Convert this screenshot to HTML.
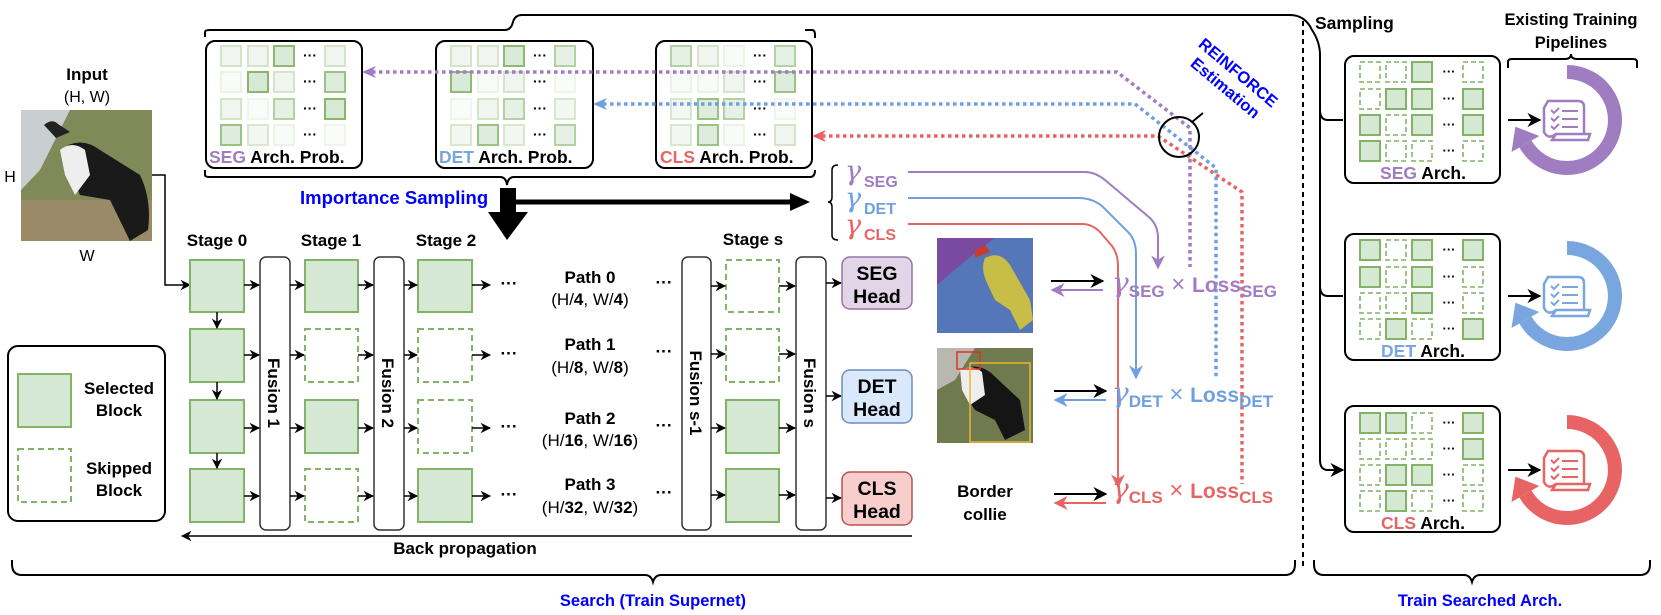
<!DOCTYPE html>
<html><head><meta charset="utf-8"><style>
html,body{margin:0;padding:0;background:#fff;}
svg{display:block;font-family:"Liberation Sans",Arial,sans-serif;}
.b{font-weight:bold;}
</style></head><body>
<svg width="1661" height="615" viewBox="0 0 1661 615" xmlns="http://www.w3.org/2000/svg">
<defs>
<marker id="ah" viewBox="0 0 10 10" refX="9" refY="5" markerWidth="7" markerHeight="7" orient="auto-start-reverse"><path d="M0,0 L10,5 L0,10 L3,5 z" fill="#000"/></marker>
<marker id="ahp" viewBox="0 0 10 10" refX="9" refY="5" markerWidth="7" markerHeight="7" orient="auto"><path d="M0,0 L10,5 L0,10 L3,5 z" fill="#a07cc0"/></marker>
<marker id="ahb" viewBox="0 0 10 10" refX="9" refY="5" markerWidth="7" markerHeight="7" orient="auto"><path d="M0,0 L10,5 L0,10 L3,5 z" fill="#6f9fe0"/></marker>
<marker id="ahr" viewBox="0 0 10 10" refX="9" refY="5" markerWidth="7" markerHeight="7" orient="auto"><path d="M0,0 L10,5 L0,10 L3,5 z" fill="#e86464"/></marker>
</defs>

<!-- Input -->
<text x="87" y="80" text-anchor="middle" class="b" font-size="17">Input</text>
<text x="87" y="102" text-anchor="middle" font-size="16">(H, W)</text>
<text x="10" y="182" text-anchor="middle" font-size="16">H</text>
<text x="87" y="261" text-anchor="middle" font-size="16">W</text>
<g>
<rect x="21" y="110" width="131" height="131" fill="#7f8a58"/>
<path d="M21,110 L70,110 L40,170 L21,190z" fill="#c9cfd0"/>
<rect x="21" y="200" width="131" height="41" fill="#9a8a68"/>
<path d="M60,150 Q80,135 100,150 L140,175 Q152,200 148,230 L130,241 L110,200 L80,195 L70,170z" fill="#1a1a1a"/>
<path d="M60,150 Q72,140 85,150 L90,175 L75,195 L65,175z" fill="#eee"/>
<path d="M44,125 Q52,118 58,124 L70,132 L56,138z" fill="#222"/>
</g>
<path d="M152,175 L165,175 L165,285 L190,285" fill="none" stroke="#000" stroke-width="1.5" marker-end="url(#ah)"/>

<!-- top long brace line -->
<path d="M205,37 L205,32 Q205,30 210,30 L505,30 Q511,30 513,22 Q515,15 522,15 L1290,15 Q1305,15 1312,30 Q1320,42 1320,55 L1320,460" fill="none" stroke="#000" stroke-width="2"/>
<path d="M805,30 L812,30 Q815,30 815,35 L815,38" fill="none" stroke="#000" stroke-width="2"/>
<path d="M1320,110 Q1320,120 1328,120 L1343,120 M1320,286 Q1320,296 1328,296 L1343,296 M1320,460 Q1320,470 1328,470 L1343,470" fill="none" stroke="#000" stroke-width="2"/>
<path d="M1330,120 L1343,120 M1330,296 L1343,296 M1330,470 L1343,470" stroke="#000" stroke-width="2" marker-end="url(#ah)"/>
<path d="M205,170 L205,175 Q205,177 210,177 L500,177 Q506,177 507,185 Q508,177 514,177 L810,177 Q815,177 815,170" fill="none" stroke="#000" stroke-width="2"/>

<!-- Prob boxes -->
<g stroke="#000" stroke-width="2" fill="#fff">
<rect x="206" y="41" width="156" height="127" rx="9"/>
<rect x="436" y="41" width="157" height="127" rx="9"/>
<rect x="656" y="41" width="156" height="127" rx="9"/>
</g>
<g fill="#d5e8d4" stroke="#82b366" stroke-width="2">
<rect x="221" y="46" width="20" height="20" opacity=".35"/><rect x="248" y="46" width="20" height="20" opacity=".35"/><rect x="274" y="46" width="20" height="20" opacity=".9"/><rect x="325" y="46" width="20" height="20" opacity=".35"/>
<rect x="221" y="72" width="20" height="20" opacity=".15"/><rect x="248" y="72" width="20" height="20" opacity=".95"/><rect x="274" y="72" width="20" height="20" opacity=".35"/><rect x="325" y="72" width="20" height="20" opacity=".8"/>
<rect x="221" y="99" width="20" height="20" opacity=".35"/><rect x="248" y="99" width="20" height="20" opacity=".12"/><rect x="274" y="99" width="20" height="20" opacity=".6"/><rect x="325" y="99" width="20" height="20" opacity=".95"/>
<rect x="221" y="125" width="20" height="20" opacity=".8"/><rect x="248" y="125" width="20" height="20" opacity=".3"/><rect x="274" y="125" width="20" height="20" opacity=".15"/><rect x="325" y="125" width="20" height="20" opacity=".12"/>
<rect x="451" y="46" width="20" height="20" opacity=".35"/><rect x="478" y="46" width="20" height="20" opacity=".35"/><rect x="504" y="46" width="20" height="20" opacity=".9"/><rect x="555" y="46" width="20" height="20" opacity=".6"/>
<rect x="451" y="72" width="20" height="20" opacity=".9"/><rect x="478" y="72" width="20" height="20" opacity=".15"/><rect x="504" y="72" width="20" height="20" opacity=".35"/><rect x="555" y="72" width="20" height="20" opacity=".12"/>
<rect x="451" y="99" width="20" height="20" opacity=".12"/><rect x="478" y="99" width="20" height="20" opacity=".35"/><rect x="504" y="99" width="20" height="20" opacity=".6"/><rect x="555" y="99" width="20" height="20" opacity=".3"/>
<rect x="451" y="125" width="20" height="20" opacity=".3"/><rect x="478" y="125" width="20" height="20" opacity=".8"/><rect x="504" y="125" width="20" height="20" opacity=".3"/><rect x="555" y="125" width="20" height="20" opacity=".6"/>
<rect x="671" y="46" width="20" height="20" opacity=".6"/><rect x="698" y="46" width="20" height="20" opacity=".35"/><rect x="724" y="46" width="20" height="20" opacity=".15"/><rect x="775" y="46" width="20" height="20" opacity=".6"/>
<rect x="671" y="72" width="20" height="20" opacity=".15"/><rect x="698" y="72" width="20" height="20" opacity=".15"/><rect x="724" y="72" width="20" height="20" opacity=".35"/><rect x="775" y="72" width="20" height="20" opacity=".8"/>
<rect x="671" y="99" width="20" height="20" opacity=".3"/><rect x="698" y="99" width="20" height="20" opacity=".8"/><rect x="724" y="99" width="20" height="20" opacity=".6"/><rect x="775" y="99" width="20" height="20" opacity=".12"/>
<rect x="671" y="125" width="20" height="20" opacity=".3"/><rect x="698" y="125" width="20" height="20" opacity=".8"/><rect x="724" y="125" width="20" height="20" opacity=".15"/><rect x="775" y="125" width="20" height="20" opacity=".35"/>
</g>
<g class="b" font-size="14" text-anchor="middle">
<text x="310" y="60">···</text><text x="310" y="86">···</text><text x="310" y="113">···</text><text x="310" y="139">···</text>
<text x="540" y="60">···</text><text x="540" y="86">···</text><text x="540" y="113">···</text><text x="540" y="139">···</text>
<text x="760" y="60">···</text><text x="760" y="86">···</text><text x="760" y="113">···</text><text x="760" y="139">···</text>
</g>
<g class="b" font-size="17.5">
<text x="209" y="163"><tspan fill="#a07cc0">SEG</tspan> Arch. Prob.</text>
<text x="439" y="163"><tspan fill="#7aa6e0">DET</tspan> Arch. Prob.</text>
<text x="660" y="163"><tspan fill="#e86464">CLS</tspan> Arch. Prob.</text>
</g>

<!-- dotted feedback lines -->
<g fill="none" stroke-width="3.5" stroke-dasharray="3.5,3.5">
<path d="M372,72 L1117,72 L1190,128 L1190,267" stroke="#a07cc0"/>
<path d="M603,104 L1135,104 L1216,168 L1216,378" stroke="#6f9fe0"/>
<path d="M822,136 L1158,136 L1242,192 L1242,484" stroke="#e86464"/>
</g>
<path d="M362,72 L376,66 L372,72 L376,78z" fill="#a07cc0"/>
<path d="M593,104 L607,98 L603,104 L607,110z" fill="#6f9fe0"/>
<path d="M812,136 L826,130 L822,136 L826,142z" fill="#e86464"/>
<circle cx="1179" cy="137" r="20" fill="none" stroke="#000" stroke-width="2"/>
<line x1="1192" y1="122" x2="1203" y2="113" stroke="#000" stroke-width="2"/>
<g transform="translate(1232,80) rotate(40)" fill="#0000ff" class="b" font-size="16.5" text-anchor="middle">
<text x="0" y="-4">REINFORCE</text>
<text x="0" y="16">Estimation</text>
</g>

<!-- Importance sampling -->
<text x="300" y="204" fill="#0000ff" class="b" font-size="18.5">Importance Sampling</text>
<path d="M500,188 L516,188 L516,212 L528,212 L507,240 L488,212 L500,212z" fill="#000"/>
<line x1="516" y1="202" x2="795" y2="202" stroke="#000" stroke-width="5"/>
<path d="M790,193 L810,202 L790,211z" fill="#000"/>

<!-- gamma group -->
<path d="M838,165 Q832,165 832,170 L832,197 Q832,202 828,202 Q832,202 832,207 L832,235 Q832,240 838,240" fill="none" stroke="#000" stroke-width="1.5"/>
<g font-family="'DejaVu Serif',serif" font-size="27" font-style="italic">
<text x="845" y="180" fill="#a07cc0">γ</text>
<text x="845" y="207" fill="#6f9fe0">γ</text>
<text x="845" y="234" fill="#e86464">γ</text>
</g>
<g class="b" font-size="16">
<text x="864" y="187" fill="#a07cc0">SEG</text>
<text x="864" y="214" fill="#6f9fe0">DET</text>
<text x="864" y="240" fill="#e86464">CLS</text>
</g>
<g fill="none" stroke-width="2">
<path d="M908,172 L1085,172 Q1095,172 1105,180 L1150,218 Q1158,226 1158,238 L1158,268" stroke="#a07cc0" marker-end="url(#ahp)"/>
<path d="M908,198 L1078,198 Q1092,198 1102,206 L1128,232 Q1136,240 1136,254 L1136,378" stroke="#6f9fe0" marker-end="url(#ahb)"/>
<path d="M908,224 L1082,224 Q1092,224 1100,232 L1112,246 Q1118,254 1118,266 L1118,487" stroke="#e86464" marker-end="url(#ahr)"/>
</g>

<!-- Stages -->
<g class="b" font-size="17" text-anchor="middle">
<text x="217" y="246">Stage 0</text><text x="331" y="246">Stage 1</text><text x="446" y="246">Stage 2</text><text x="753" y="245">Stage s</text>
</g>
<g fill="#fff" stroke="#333" stroke-width="1.5">
<rect x="260" y="257" width="30" height="273" rx="6"/>
<rect x="374" y="257" width="30" height="273" rx="6"/>
<rect x="682" y="257" width="29" height="273" rx="6"/>
<rect x="796" y="257" width="30" height="273" rx="6"/>
</g>
<g class="b" font-size="17">
<text transform="translate(268,393) rotate(90)" text-anchor="middle">Fusion 1</text>
<text transform="translate(382,393) rotate(90)" text-anchor="middle">Fusion 2</text>
<text transform="translate(690,393) rotate(90)" text-anchor="middle">Fusion s-1</text>
<text transform="translate(804,393) rotate(90)" text-anchor="middle">Fusion s</text>
</g>
<g fill="#d5e8d4" stroke="#82b366" stroke-width="2">
<rect x="190" y="260" width="54" height="52"/><rect x="190" y="329" width="54" height="53"/><rect x="190" y="400" width="54" height="53"/><rect x="190" y="469" width="54" height="53"/>
<rect x="305" y="260" width="53" height="52"/><rect x="305" y="400" width="53" height="53"/>
<rect x="418" y="260" width="54" height="52"/><rect x="418" y="469" width="54" height="53"/>
<rect x="726" y="400" width="53" height="53"/><rect x="726" y="469" width="53" height="53"/>
</g>
<g fill="none" stroke="#82b366" stroke-width="2" stroke-dasharray="6,4">
<rect x="305" y="329" width="53" height="53"/><rect x="305" y="469" width="53" height="53"/>
<rect x="418" y="329" width="54" height="53"/><rect x="418" y="400" width="54" height="53"/>
<rect x="726" y="260" width="53" height="52"/><rect x="726" y="329" width="53" height="53"/>
</g>
<g stroke="#000" stroke-width="1.5" marker-end="url(#ah)">
<line x1="244" y1="285" x2="259" y2="285"/><line x1="290" y1="285" x2="304" y2="285"/><line x1="358" y1="285" x2="373" y2="285"/><line x1="404" y1="285" x2="417" y2="285"/><line x1="472" y1="285" x2="490" y2="285"/>
<line x1="244" y1="355" x2="259" y2="355"/><line x1="290" y1="355" x2="304" y2="355"/><line x1="358" y1="355" x2="373" y2="355"/><line x1="404" y1="355" x2="417" y2="355"/><line x1="472" y1="355" x2="490" y2="355"/>
<line x1="244" y1="428" x2="259" y2="428"/><line x1="290" y1="428" x2="304" y2="428"/><line x1="358" y1="428" x2="373" y2="428"/><line x1="404" y1="428" x2="417" y2="428"/><line x1="472" y1="428" x2="490" y2="428"/>
<line x1="244" y1="496" x2="259" y2="496"/><line x1="290" y1="496" x2="304" y2="496"/><line x1="358" y1="496" x2="373" y2="496"/><line x1="404" y1="496" x2="417" y2="496"/><line x1="472" y1="496" x2="490" y2="496"/>
<line x1="711" y1="286" x2="725" y2="286"/><line x1="779" y1="286" x2="795" y2="286"/>
<line x1="711" y1="354" x2="725" y2="354"/><line x1="779" y1="354" x2="795" y2="354"/>
<line x1="711" y1="428" x2="725" y2="428"/><line x1="779" y1="428" x2="795" y2="428"/>
<line x1="711" y1="495" x2="725" y2="495"/><line x1="779" y1="495" x2="795" y2="495"/>
<line x1="217" y1="312" x2="217" y2="328"/><line x1="217" y1="382" x2="217" y2="399"/><line x1="217" y1="453" x2="217" y2="468"/>
<line x1="826" y1="283" x2="841" y2="283"/><line x1="826" y1="396" x2="841" y2="396"/><line x1="826" y1="498" x2="841" y2="498"/>
</g>
<g class="b" font-size="17" text-anchor="middle">
<text x="509" y="289">···</text><text x="509" y="359">···</text><text x="509" y="432">···</text><text x="509" y="500">···</text>
<text x="664" y="288">···</text><text x="664" y="357">···</text><text x="664" y="431">···</text><text x="664" y="498">···</text>
</g>
<g font-size="17" text-anchor="middle">
<text x="590" y="283" class="b">Path 0</text><text x="590" y="305">(H/<tspan class="b">4</tspan>, W/<tspan class="b">4</tspan>)</text>
<text x="590" y="350" class="b">Path 1</text><text x="590" y="373">(H/<tspan class="b">8</tspan>, W/<tspan class="b">8</tspan>)</text>
<text x="590" y="424" class="b">Path 2</text><text x="590" y="446">(H/<tspan class="b">16</tspan>, W/<tspan class="b">16</tspan>)</text>
<text x="590" y="490" class="b">Path 3</text><text x="590" y="513">(H/<tspan class="b">32</tspan>, W/<tspan class="b">32</tspan>)</text>
</g>

<!-- Heads -->
<rect x="842" y="257" width="70" height="52" rx="8" fill="#e1d5e7" stroke="#9673a6" stroke-width="1.5"/>
<rect x="842" y="370" width="70" height="53" rx="8" fill="#dae8fc" stroke="#6c8ebf" stroke-width="1.5"/>
<rect x="842" y="472" width="70" height="53" rx="8" fill="#f8cecc" stroke="#b85450" stroke-width="1.5"/>
<g class="b" font-size="19.5" text-anchor="middle">
<text x="877" y="280">SEG</text><text x="877" y="303">Head</text>
<text x="877" y="393">DET</text><text x="877" y="416">Head</text>
<text x="877" y="495">CLS</text><text x="877" y="518">Head</text>
</g>

<!-- back propagation -->
<line x1="912" y1="536" x2="182" y2="536" stroke="#000" stroke-width="1.5" marker-end="url(#ah)"/>
<text x="465" y="554" text-anchor="middle" class="b" font-size="17">Back propagation</text>

<!-- legend -->
<rect x="8" y="346" width="157" height="175" rx="10" fill="#fff" stroke="#000" stroke-width="2"/>
<rect x="18" y="374" width="53" height="53" fill="#d5e8d4" stroke="#82b366" stroke-width="2"/>
<rect x="18" y="449" width="53" height="53" fill="none" stroke="#82b366" stroke-width="2" stroke-dasharray="6,4"/>
<g class="b" font-size="17" text-anchor="middle">
<text x="119" y="394">Selected</text><text x="119" y="416">Block</text>
<text x="119" y="474">Skipped</text><text x="119" y="496">Block</text>
</g>

<!-- images -->
<g>
<rect x="937" y="238" width="96" height="95" fill="#5576b8"/>
<path d="M937,238 L995,238 Q975,252 937,285z" fill="#7a4aa0"/>
<path d="M975,250 L985,245 L990,252 L975,258z" fill="#c83c2c"/>
<path d="M985,258 Q1000,250 1010,265 L1030,300 L1033,320 L1020,330 L1010,310 L995,300 L988,285 Q980,270 985,258z" fill="#c8bd46"/>
</g>
<g>
<rect x="937" y="348" width="96" height="95" fill="#6f7a4e"/>
<path d="M937,348 L975,348 L955,380 L937,390z" fill="#b8b8b0"/>
<path d="M960,370 Q975,362 990,372 L1020,400 L1025,430 L1005,440 L995,420 L975,410 L962,390z" fill="#151515"/>
<path d="M960,370 Q972,364 982,372 L985,395 L970,405 L962,390z" fill="#eee"/>
<rect x="957" y="352" width="23" height="17" fill="none" stroke="#e03020" stroke-width="1.5"/>
<rect x="970" y="363" width="60" height="79" fill="none" stroke="#e8b830" stroke-width="1.5"/>
</g>
<text x="985" y="497" text-anchor="middle" class="b" font-size="17">Border</text>
<text x="985" y="520" text-anchor="middle" class="b" font-size="17">collie</text>

<g stroke-width="2">
<line x1="1051" y1="281" x2="1103" y2="281" stroke="#000" marker-end="url(#ah)"/>
<line x1="1103" y1="290" x2="1052" y2="290" stroke="#a07cc0" marker-end="url(#ahp)"/>
<line x1="1054" y1="391" x2="1106" y2="391" stroke="#000" marker-end="url(#ah)"/>
<line x1="1106" y1="400" x2="1055" y2="400" stroke="#6f9fe0" marker-end="url(#ahb)"/>
<line x1="1054" y1="494" x2="1106" y2="494" stroke="#000" marker-end="url(#ah)"/>
<line x1="1106" y1="503" x2="1055" y2="503" stroke="#e86464" marker-end="url(#ahr)"/>
</g>
<g>
<text x="1112" y="292" fill="#a07cc0"><tspan font-family="'DejaVu Serif',serif" font-style="italic" font-size="28">γ</tspan><tspan class="b" font-size="17" dy="5">SEG</tspan><tspan font-size="24" dy="-5"> × </tspan><tspan class="b" font-size="21">Loss</tspan><tspan class="b" font-size="17" dy="5">SEG</tspan></text>
<text x="1112" y="402" fill="#6f9fe0"><tspan font-family="'DejaVu Serif',serif" font-style="italic" font-size="28">γ</tspan><tspan class="b" font-size="17" dy="5">DET</tspan><tspan font-size="24" dy="-5"> × </tspan><tspan class="b" font-size="21">Loss</tspan><tspan class="b" font-size="17" dy="5">DET</tspan></text>
<text x="1112" y="498" fill="#e86464"><tspan font-family="'DejaVu Serif',serif" font-style="italic" font-size="28">γ</tspan><tspan class="b" font-size="17" dy="5">CLS</tspan><tspan font-size="24" dy="-5"> × </tspan><tspan class="b" font-size="21">Loss</tspan><tspan class="b" font-size="17" dy="5">CLS</tspan></text>
</g>

<line x1="1303" y1="21" x2="1303" y2="568" stroke="#000" stroke-width="2" stroke-dasharray="5,4"/>
<text x="1315" y="29" class="b" font-size="17.5">Sampling</text>
<text x="1571" y="25" text-anchor="middle" class="b" font-size="16.5">Existing Training</text>
<text x="1571" y="48" text-anchor="middle" class="b" font-size="16.5">Pipelines</text>
<path d="M1508,68 L1508,62 Q1508,59 1512,59 L1565,59 Q1571,59 1571,54 Q1571,59 1577,59 L1633,59 Q1637,59 1637,62 L1637,68" fill="none" stroke="#000" stroke-width="2"/>

<g stroke="#000" stroke-width="2" fill="#fff">
<rect x="1345" y="56" width="155" height="127" rx="9"/>
<rect x="1345" y="234" width="155" height="126" rx="9"/>
<rect x="1345" y="406" width="155" height="126" rx="9"/>
</g>
<g fill="#d5e8d4" stroke="#82b366" stroke-width="2">
<rect x="1412" y="62" width="20" height="20"/>
<rect x="1386" y="89" width="20" height="20"/><rect x="1412" y="89" width="20" height="20"/><rect x="1463" y="89" width="20" height="20"/>
<rect x="1360" y="115" width="20" height="20"/><rect x="1412" y="115" width="20" height="20"/><rect x="1463" y="115" width="20" height="20"/>
<rect x="1360" y="141" width="20" height="20"/>
<rect x="1360" y="240" width="20" height="20"/><rect x="1412" y="240" width="20" height="20"/><rect x="1463" y="240" width="20" height="20"/>
<rect x="1360" y="267" width="20" height="20"/><rect x="1412" y="267" width="20" height="20"/>
<rect x="1412" y="293" width="20" height="20"/>
<rect x="1386" y="319" width="20" height="20"/><rect x="1463" y="319" width="20" height="20"/>
<rect x="1360" y="413" width="20" height="20"/><rect x="1386" y="413" width="20" height="20"/><rect x="1463" y="413" width="20" height="20"/>
<rect x="1463" y="439" width="20" height="20"/>
<rect x="1386" y="465" width="20" height="20"/><rect x="1412" y="465" width="20" height="20"/>
<rect x="1386" y="491" width="20" height="20"/>
</g>
<g fill="none" stroke="#82b366" stroke-width="1.6" stroke-dasharray="5,3">
<rect x="1360" y="62" width="20" height="20"/><rect x="1386" y="62" width="20" height="20"/><rect x="1463" y="62" width="20" height="20"/>
<rect x="1360" y="89" width="20" height="20"/>
<rect x="1386" y="115" width="20" height="20"/>
<rect x="1386" y="141" width="20" height="20"/><rect x="1412" y="141" width="20" height="20"/><rect x="1463" y="141" width="20" height="20"/>
<rect x="1386" y="240" width="20" height="20"/>
<rect x="1386" y="267" width="20" height="20"/><rect x="1463" y="267" width="20" height="20"/>
<rect x="1360" y="293" width="20" height="20"/><rect x="1386" y="293" width="20" height="20"/><rect x="1463" y="293" width="20" height="20"/>
<rect x="1360" y="319" width="20" height="20"/><rect x="1412" y="319" width="20" height="20"/>
<rect x="1412" y="413" width="20" height="20"/>
<rect x="1360" y="439" width="20" height="20"/><rect x="1386" y="439" width="20" height="20"/><rect x="1412" y="439" width="20" height="20"/>
<rect x="1360" y="465" width="20" height="20"/><rect x="1463" y="465" width="20" height="20"/>
<rect x="1360" y="491" width="20" height="20"/><rect x="1412" y="491" width="20" height="20"/><rect x="1463" y="491" width="20" height="20"/>
</g>
<g class="b" font-size="13" text-anchor="middle">
<text x="1449" y="76">···</text><text x="1449" y="103">···</text><text x="1449" y="129">···</text><text x="1449" y="155">···</text>
<text x="1449" y="254">···</text><text x="1449" y="281">···</text><text x="1449" y="307">···</text><text x="1449" y="333">···</text>
<text x="1449" y="427">···</text><text x="1449" y="453">···</text><text x="1449" y="479">···</text><text x="1449" y="505">···</text>
</g>
<g class="b" font-size="17.5" text-anchor="middle">
<text x="1423" y="179"><tspan fill="#a07cc0">SEG</tspan> Arch.</text>
<text x="1423" y="357"><tspan fill="#7aa6e0">DET</tspan> Arch.</text>
<text x="1423" y="529"><tspan fill="#e86464">CLS</tspan> Arch.</text>
</g>

<g stroke="#000" stroke-width="2" marker-end="url(#ah)">
<line x1="1508" y1="120" x2="1540" y2="120"/><line x1="1508" y1="296" x2="1540" y2="296"/><line x1="1508" y1="470" x2="1540" y2="470"/>
</g>
<g>
<path d="M1567,72 A48,48 0 1 1 1525.4,144" fill="none" stroke="#a07cc0" stroke-width="14"/>
<path d="M1539.3,136 L1511.5,152 L1515.4,126.7z" fill="#a07cc0"/>
<path d="M1548,101 L1578,101 Q1584,101 1584,107 L1584,134 L1556,134 Q1548,140 1544,132 L1544,108z M1556,134 L1590,134 L1588,140 L1552,140z" fill="none" stroke="#a07cc0" stroke-width="2.5"/>
<path d="M1551,110 l3,3 l5,-5 M1551,118 l3,3 l5,-5 M1551,126 l3,3 l5,-5 M1562,111 L1578,111 M1562,119 L1578,119 M1562,127 L1578,127" fill="none" stroke="#a07cc0" stroke-width="2"/>
</g>
<g>
<path d="M1567,248 A48,48 0 1 1 1525.4,320" fill="none" stroke="#7aa6e0" stroke-width="14"/>
<path d="M1539.3,312 L1511.5,328 L1515.4,302.7z" fill="#7aa6e0"/>
<path d="M1548,277 L1578,277 Q1584,277 1584,283 L1584,310 L1556,310 Q1548,316 1544,308 L1544,284z M1556,310 L1590,310 L1588,316 L1552,316z" fill="none" stroke="#7aa6e0" stroke-width="2.5"/>
<path d="M1551,286 l3,3 l5,-5 M1551,294 l3,3 l5,-5 M1551,302 l3,3 l5,-5 M1562,287 L1578,287 M1562,295 L1578,295 M1562,303 L1578,303" fill="none" stroke="#7aa6e0" stroke-width="2"/>
</g>
<g>
<path d="M1567,422 A48,48 0 1 1 1525.4,494" fill="none" stroke="#e86464" stroke-width="14"/>
<path d="M1539.3,486 L1511.5,502 L1515.4,476.7z" fill="#e86464"/>
<path d="M1548,451 L1578,451 Q1584,451 1584,457 L1584,484 L1556,484 Q1548,490 1544,482 L1544,458z M1556,484 L1590,484 L1588,490 L1552,490z" fill="none" stroke="#e86464" stroke-width="2.5"/>
<path d="M1551,460 l3,3 l5,-5 M1551,468 l3,3 l5,-5 M1551,476 l3,3 l5,-5 M1562,461 L1578,461 M1562,469 L1578,469 M1562,477 L1578,477" fill="none" stroke="#e86464" stroke-width="2"/>
</g>

<path d="M12,560 L12,564 Q12,575 22,575 L645,575 Q651,575 653,582 Q655,575 661,575 L1285,575 Q1295,575 1295,564 L1295,560" fill="none" stroke="#000" stroke-width="2"/>
<text x="653" y="606" text-anchor="middle" fill="#0000ff" class="b" font-size="16.5">Search (Train Supernet)</text>
<path d="M1314,560 L1314,564 Q1314,575 1324,575 L1464,575 Q1470,575 1472,582 Q1474,575 1480,575 L1640,575 Q1650,575 1650,564 L1650,560" fill="none" stroke="#000" stroke-width="2"/>
<text x="1480" y="606" text-anchor="middle" fill="#0000ff" class="b" font-size="16.5">Train Searched Arch.</text>
</svg>
</body></html>
